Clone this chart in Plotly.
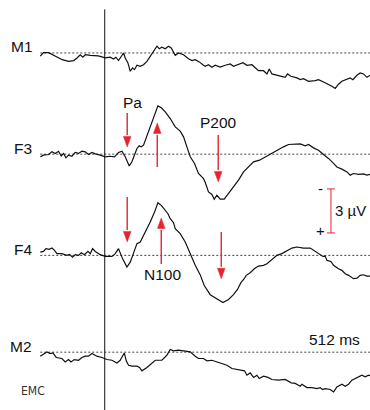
import plotly.graph_objects as go

# Evoked potentials: time in ms from stimulus onset, amplitude in µV (negative plotted upward)
t_m1 = [-100, -95, -87, -77, -66, -56, -48, -43, -38, -34, -30, -22.5, -10, 1, 8.5, 13.7, 17.4, 21.4,
        25.6, 29.2, 31.8, 36, 39.6, 43.1, 46.2, 50, 55, 60.2, 65.5, 70.6, 75.7, 81, 84.6, 88.7, 93.9,
        99, 103.2, 106.7, 109.4, 114.5, 122.3, 130, 135.3, 140.4, 146.6, 153.3, 156, 161, 166.3,
        171.4, 179.2, 187, 194.7, 199.8, 207.6, 214.4, 220.6, 228.4, 238.6, 246.4, 251.7, 255.2,
        259.4, 269.7, 280, 283.6, 288.9, 298.2, 303.3, 308.4, 316.2, 326.6, 331.7, 339.5, 347.2,
        352.5, 357.6, 362.7, 368, 375.8, 380.9, 385.1, 391.3, 396.4, 401.5, 406.8, 412]
m1_uv = [0.22, -0.02, -0.02, 0.22, 0.46, 0.57, 0.52, 0.34, 0.12, 0.29, 0.12, 0.16, 0.2, 0.34, 0.29,
         0.41, 0.29, 0.52, 0.22, 0.0, 0.34, 0.68, 1.25, 1.02, 1.14, 0.84, 0.91, 0.8, 0.57, 0.22,
         -0.07, -0.46, -0.29, -0.39, -0.29, -0.46, -0.34, -0.07, 0.16, 0.0, 0.12, 0.39, 0.52, 0.46,
         0.61, 0.84, 0.91, 0.8, 0.97, 0.84, 0.97, 0.84, 0.75, 0.91, 0.8, 0.66, 0.84, 0.8, 1.21,
         1.21, 1.43, 1.09, 1.43, 1.52, 1.66, 1.43, 1.59, 1.7, 1.82, 1.75, 1.93, 1.89, 1.82, 1.98,
         2.13, 2.27, 2.42, 2.13, 1.93, 1.82, 1.7, 1.82, 1.52, 1.36, 1.43, 1.66, 1.52]

t_f3 = [-100, -95, -87.2, -81.9, -76.8, -71.7, -67.5, -63.9, -60.2, -56.2, -50.9, -45.8, -40.6, -35.4,
        -30.3, -25.1, -19.9, -14.7, -7, 0.8, 8.5, 15.2, 21.4, 26.7, 31.8, 38, 42.2, 46.2, 50, 53.5,
        56.6, 60.2, 63.9, 70.6, 77.3, 82.5, 87.7, 93.9, 101.6, 109.4, 117.1, 122.3, 127.5, 132.7,
        139.3, 145.5, 153.3, 156, 161, 166.3, 169.9, 174.1, 179.2, 185.4, 192.1, 199.8, 207.6,
        215.4, 223.1, 230.9, 240.2, 246.4, 256.8, 267.2, 277.4, 285.2, 295.6, 303.3, 311.1, 316.2,
        324, 331.7, 339.5, 347.2, 355, 360.3, 368, 375.8, 380.9, 386, 393.8, 401.5, 406.8, 412]
f3_uv = [0.18, 0.07, 0.02, -0.16, -0.05, -0.2, 0.12, -0.05, 0.25, 0.07, 0.14, -0.12, -0.05, -0.2,
         -0.16, 0.02, -0.12, -0.02, 0.07, 0.18, 0.14, 0.18, -0.12, -0.2, 0.18, 0.8, 0.52, 0.02,
         -0.39, -0.57, -0.5, -0.61, -1.07, -1.86, -2.66, -3.29, -3.16, -2.88, -2.43, -1.86, -1.57,
         -1.18, -0.5, 0.18, 0.63, 1.32, 1.66, 1.93, 2.57, 2.75, 3.07, 2.8, 3.07, 3.07, 2.68, 2.23,
         1.77, 1.21, 0.87, 0.52, 0.41, 0.25, 0.02, -0.27, -0.5, -0.66, -0.66, -0.7, -0.57, -0.66,
         -0.43, -0.27, 0.02, 0.29, 0.63, 0.87, 1.02, 1.21, 1.43, 1.32, 1.38, 1.34, 1.43, 1.38]

t_f4 = [-100, -95, -91.2, -86.1, -81.9, -77.9, -74.2, -66.4, -58.6, -54.6, -50, -45.8, -40.6, -36.5,
        -31.3, -26.1, -22.5, -18.9, -14.7, -7, 0.8, 11.2, 16.3, 21.4, 27.6, 34.4, 39.6, 44.7, 50,
        55.1, 61.8, 70.6, 77.3, 82.5, 87.7, 92.8, 98.1, 101.6, 106.7, 109.4, 117.1, 124.9, 132.7,
        140.4, 148.2, 154.4, 163.7, 174.1, 183.4, 192.1, 199.8, 206, 211.3, 216.4, 219.5, 225.7,
        232, 238.6, 246.4, 251.7, 259.4, 267.2, 274.9, 282.7, 290.4, 298.2, 308.4, 318.8, 326.6,
        333.3, 338.5, 342.1, 344.8, 351, 355, 362.7, 368, 373.1, 378.3, 386, 391.3, 396.4, 401.5,
        406.8, 412]
f4_uv = [-0.22, -0.27, -0.46, -0.41, -0.5, -0.34, -0.12, -0.12, 0.0, -0.07, 0.12, -0.05, 0.0, -0.18,
         -0.05, -0.27, -0.12, -0.46, -0.27, -0.05, 0.07, 0.07, -0.12, -0.46, 0.22, 0.8, 0.46, -0.12,
         -0.8, -0.91, -1.48, -2.27, -2.95, -3.59, -3.41, -3.14, -2.84, -2.5, -2.23, -1.82, -1.48,
         -0.91, -0.12, 0.68, 1.33, 2.05, 2.68, 2.95, 3.22, 3.0, 2.68, 2.32, 1.86, 1.59, 1.36, 1.18,
         0.91, 0.73, 0.68, 0.57, 0.27, 0.0, -0.12, -0.34, -0.5, -0.57, -0.5, -0.5, -0.27, -0.05,
         0.07, 0.05, 0.34, 0.41, 0.68, 0.91, 1.02, 1.25, 1.36, 1.59, 1.55, 1.36, 1.32, 1.41, 1.41]

t_m2 = [-100, -95, -89.7, -84.6, -80.4, -75.2, -66.4, -61.3, -56.2, -52.4, -47.3, -40.6, -35.4, -30.3,
        -25.1, -19.9, -12.1, -4.3, 3.4, 11.2, 18.9, 24, 30.3, 33.4, 36.9, 42.2, 50, 54, 57.7, 65.5,
        73.2, 78.4, 88.7, 96.5, 101.6, 106.7, 114.5, 123.8, 132.7, 140.4, 145.5, 153.3, 158.6,
        166.3, 174.1, 181.8, 189.6, 197.4, 207.6, 216.9, 220.6, 225.7, 230.9, 236.1, 239.7, 246.4,
        253.2, 259.4, 269.7, 280, 289.4, 295.6, 303.3, 306, 313.7, 321.5, 329.2, 334.4, 337.9,
        342.1, 349.9, 355, 360.3, 368, 373.1, 378.3, 383.5, 388.7, 393.8, 399, 404.2, 409.3, 412]
m2_uv = [0.27, 0.14, -0.02, 0.09, 0.05, 0.36, 0.43, 0.66, 0.5, 0.66, 0.5, 0.55, 0.36, 0.27, 0.27,
         0.09, 0.27, 0.36, 0.5, 0.55, 0.73, 0.55, 0.05, 0.59, 0.89, 0.95, 0.95, 1.04, 1.27, 1.04,
         0.77, 0.55, 0.55, 0.2, -0.18, -0.09, -0.14, -0.09, -0.02, 0.27, 0.43, 0.43, 0.59, 0.55,
         0.66, 0.77, 0.89, 1.11, 1.18, 1.27, 1.57, 1.41, 1.72, 1.57, 1.79, 1.64, 1.72, 1.86, 1.91,
         1.86, 2.09, 2.13, 2.32, 2.18, 2.41, 2.41, 2.48, 2.41, 2.54, 2.48, 2.54, 2.71, 2.37, 2.18,
         2.32, 2.18, 1.91, 1.79, 1.64, 1.57, 1.68, 1.57, 1.6]

channels = ["M1", "F3", "F4", "M2"]
channel_times = [t_m1, t_f3, t_f4, t_m2]
channel_values = [m1_uv, f3_uv, f4_uv, m2_uv]
channel_offsets_uv = [0.0, 6.9, 13.8, 20.4]  # vertical stacking of the rows

# Component markers: row, time in ms, arrow tail and tip in µV relative to the row baseline
arrow_rows = ["F3", "F3", "F3", "F4", "F4", "F4"]
arrow_times = [34.9, 81.5, 176.1, 34.9, 87.7, 180.8]
arrow_tails = [-2.81, 0.87, -1.31, -3.98, 0.58, -1.6]
arrow_tips = [-0.49, -2.13, 1.89, -0.92, -2.55, 1.6]

component_labels = ["Pa", "P200", "N100"]
component_label_rows = ["F3", "F3", "F4"]
component_label_times = [42.7, 176.9, 89.2]
component_label_uv = [-3.53, -2.16, 1.33]

scale_uv = 3
sweep_ms = 512
epoch_start_ms = -100

INK = "#111111"
RED = "#e8232e"
FONT = "Liberation Sans, Arial, Helvetica, sans-serif"
PX_PER_UV = 14.67
MS_PER_PX = 1.5515

offset_of = dict(zip(channels, channel_offsets_uv))

fig = go.Figure()

# dotted zero lines for each row
for name, off in zip(channels, channel_offsets_uv):
    fig.add_trace(go.Scatter(
        x=[epoch_start_ms, epoch_start_ms + sweep_ms], y=[off, off], mode="lines",
        line=dict(color="#444444", width=1, dash="2px,2px"), hoverinfo="skip", showlegend=False))

# waveforms
for name, ts, vs, off in zip(channels, channel_times, channel_values, channel_offsets_uv):
    fig.add_trace(go.Scatter(
        x=ts, y=[off + v for v in vs], mode="lines", name=name,
        line=dict(color=INK, width=1.2), showlegend=False))

# red component arrows: shaft plus a narrow filled head
head_len = 12 / PX_PER_UV
head_half = 3.8 * MS_PER_PX
for row, t, tail, tip in zip(arrow_rows, arrow_times, arrow_tails, arrow_tips):
    off = offset_of[row]
    y_tail, y_tip = off + tail, off + tip
    direction = 1 if y_tip > y_tail else -1
    y_base = y_tip - direction * head_len
    y_back = y_base + direction * 1.5 / PX_PER_UV
    fig.add_trace(go.Scatter(
        x=[t, t], y=[y_tail, y_base], mode="lines",
        line=dict(color=RED, width=1.4), hoverinfo="skip", showlegend=False))
    fig.add_trace(go.Scatter(
        x=[t - head_half, t + head_half, t, t - head_half],
        y=[y_back, y_back, y_tip, y_back],
        mode="lines", fill="toself", fillcolor=RED, line=dict(color=RED, width=0.5),
        hoverinfo="skip", showlegend=False))

# calibration bar (3 µV, negative up)
bar_t = 351
bar_top = 9.27
cap = 6.2
fig.add_trace(go.Scatter(
    x=[bar_t - cap, bar_t + cap, None, bar_t, bar_t, None, bar_t - cap, bar_t + cap],
    y=[bar_top, bar_top, None, bar_top, bar_top + scale_uv, None, bar_top + scale_uv, bar_top + scale_uv],
    mode="lines", line=dict(color=RED, width=1), hoverinfo="skip", showlegend=False))

# stimulus onset
fig.add_shape(type="line", x0=0, x1=0, y0=-2.97, y1=30, xref="x", yref="y",
              line=dict(color=INK, width=1))

annotations = []
label_right_ms = [-107.8, -110.2, -110.2, -110.2]
for name, off, xr in zip(channels, channel_offsets_uv, label_right_ms):
    annotations.append(dict(x=xr, y=off, text=name, xanchor="right", yanchor="middle",
                            yshift=6, showarrow=False, font=dict(size=15.5, color=INK, family=FONT)))

for lab, row, t, v in zip(component_labels, component_label_rows, component_label_times, component_label_uv):
    annotations.append(dict(x=t, y=offset_of[row] + v, text=lab, xanchor="center", yanchor="middle",
                            showarrow=False, font=dict(size=15.5, color=INK, family=FONT)))

annotations += [
    dict(x=334.3, y=bar_top, text="-", xanchor="center", yanchor="middle", showarrow=False,
         font=dict(size=15, color=INK, family=FONT)),
    dict(x=334.3, y=bar_top + 2.8, text="+", xanchor="center", yanchor="middle", showarrow=False,
         font=dict(size=15, color=INK, family=FONT)),
    dict(x=409, y=bar_top + scale_uv / 2, text=f"{scale_uv} µV", xanchor="right", yanchor="middle",
         showarrow=False, font=dict(size=15, color=INK, family=FONT)),
    dict(x=356, y=offset_of["M2"] - 0.84, text=f"{sweep_ms} ms", xanchor="center", yanchor="middle",
         showarrow=False, font=dict(size=15.5, color=INK, family=FONT)),
    dict(x=-111, y=23.04, text="EMC", xanchor="center", yanchor="middle", showarrow=False,
         font=dict(size=12, color="#333333",
                   family="Liberation Sans Narrow, DejaVu Sans Condensed, sans-serif")),
]

fig.update_layout(
    width=370, height=410,
    margin=dict(l=0, r=0, t=0, b=0),
    paper_bgcolor="white", plot_bgcolor="white",
    xaxis=dict(range=[-162.5, 411.6], visible=False, fixedrange=True),
    yaxis=dict(range=[24.34, -3.61], visible=False, fixedrange=True),
    annotations=annotations,
    showlegend=False,
)

fig.write_html("out.html")
